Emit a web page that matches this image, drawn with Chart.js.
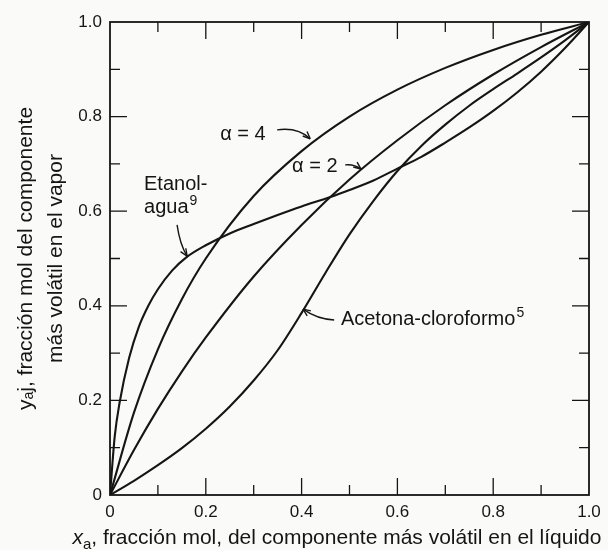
<!DOCTYPE html>
<html>
<head>
<meta charset="utf-8">
<script src="https://cdn.jsdelivr.net/npm/chart.js@4.4.1/dist/chart.umd.min.js"></script>
<style>
  html, body { margin: 0; padding: 0; background: #fafaf8; }
</style>
</head>
<body>
<canvas id="xy" width="608" height="550"></canvas>
<script>
/* --------------- Datos ----------------------------------------- */
const xAlpha = [0, 0.05, 0.1, 0.15, 0.2, 0.3, 0.4, 0.5, 0.6, 0.7, 0.8, 0.9, 1.0];
const yAlpha4 = [0, 0.174, 0.308, 0.414, 0.5, 0.632, 0.727, 0.8, 0.857, 0.903, 0.941, 0.973, 1.0];
const yAlpha2 = [0, 0.095, 0.182, 0.261, 0.333, 0.462, 0.571, 0.667, 0.75, 0.824, 0.889, 0.947, 1.0];

const xEtanol = [0, 0.01, 0.02, 0.04, 0.06, 0.08, 0.1, 0.13, 0.16, 0.2, 0.25, 0.3, 0.35, 0.4, 0.46, 0.5, 0.55, 0.6, 0.65, 0.7, 0.75, 0.8, 0.85, 0.9, 0.95, 1.0];
const yEtanol = [0, 0.125, 0.195, 0.29, 0.355, 0.4, 0.435, 0.475, 0.503, 0.528, 0.553, 0.573, 0.592, 0.61, 0.63, 0.645, 0.665, 0.69, 0.715, 0.745, 0.777, 0.812, 0.851, 0.895, 0.945, 1.0];

const xAcetona = [0, 0.05, 0.1, 0.15, 0.2, 0.25, 0.3, 0.35, 0.4, 0.45, 0.5, 0.55, 0.6, 0.65, 0.7, 0.75, 0.8, 0.85, 0.9, 0.95, 1.0];
const yAcetona = [0, 0.03, 0.063, 0.099, 0.14, 0.187, 0.242, 0.306, 0.385, 0.47, 0.551, 0.622, 0.685, 0.738, 0.783, 0.823, 0.858, 0.891, 0.925, 0.961, 1.0];

const majorTicks = [0.2, 0.4, 0.6, 0.8];
const minorTicks = [0.1, 0.3, 0.5, 0.7, 0.9];

/* --------------- Rótulos sobre las curvas (en unidades de los ejes) --------------------- */
const notes = [
  { lines: [["Etanol-", ""], ["agua", "9"]], x: 0.071, y: 0.645, arrow: [[0.140, 0.571], [0.146, 0.529], [0.161, 0.505]] },
  { lines: [["α = 4", ""]], x: 0.230, y: 0.750, arrow: [[0.349, 0.772], [0.392, 0.778], [0.418, 0.753]] },
  { lines: [["α = 2", ""]], x: 0.380, y: 0.683, arrow: [[0.491, 0.698], [0.510, 0.700], [0.524, 0.689]] },
  { lines: [["Acetona-cloroformo", "5"]], x: 0.482, y: 0.359, arrow: [[0.468, 0.370], [0.432, 0.372], [0.403, 0.393]] },
];

const pts = (xs, ys) => xs.map((v, i) => ({ x: v, y: ys[i] }));
const ink = "#151515";
const family = "'Liberation Sans', Arial, Helvetica, sans-serif";

const curve = (label, data) => ({
  label,
  data,
  showLine: true,
  borderColor: ink,
  borderWidth: 2.1,
  pointRadius: 0,
  cubicInterpolationMode: "monotone",
});

/* --------------- Marco, marcas interiores y rótulos --------------------- */
const frame = {
  id: "frame",
  afterDatasetsDraw(chart) {
    const { ctx, chartArea: a, scales: { x, y } } = chart;
    ctx.save();
    ctx.strokeStyle = ink;
    ctx.lineWidth = 1.8;
    ctx.strokeRect(a.left, a.top, a.right - a.left, a.bottom - a.top);

    ctx.lineWidth = 1.3;
    ctx.beginPath();
    const tick = (v, len) => {
      const px = x.getPixelForValue(v), py = y.getPixelForValue(v);
      ctx.moveTo(px, a.bottom); ctx.lineTo(px, a.bottom - len);
      ctx.moveTo(px, a.top); ctx.lineTo(px, a.top + len);
      ctx.moveTo(a.left, py); ctx.lineTo(a.left + len, py);
      ctx.moveTo(a.right, py); ctx.lineTo(a.right - len, py);
    };
    majorTicks.forEach(v => tick(v, 17));
    minorTicks.forEach(v => tick(v, 10));
    ctx.stroke();

    ctx.fillStyle = ink;
    ctx.textBaseline = "alphabetic";
    ctx.textAlign = "left";
    for (const n of notes) {
      let px = x.getPixelForValue(n.x), py = y.getPixelForValue(n.y);
      n.lines.forEach(([txt, sup], i) => {
        ctx.font = "20px " + family;
        ctx.fillText(txt, px, py + i * 23);
        if (sup) {
          const w = ctx.measureText(txt).width;
          ctx.font = "14px " + family;
          ctx.fillText(sup, px + w + 1, py + i * 23 - 8);
        }
      });
      const p = n.arrow.map(([u, v]) => [x.getPixelForValue(u), y.getPixelForValue(v)]);
      ctx.lineWidth = 1.4;
      ctx.beginPath();
      ctx.moveTo(p[0][0], p[0][1]);
      ctx.quadraticCurveTo(p[1][0], p[1][1], p[2][0], p[2][1]);
      ctx.stroke();
      const ang = Math.atan2(p[2][1] - p[1][1], p[2][0] - p[1][0]);
      ctx.beginPath();
      ctx.moveTo(p[2][0], p[2][1]);
      ctx.lineTo(p[2][0] - 8 * Math.cos(ang - 0.4), p[2][1] - 8 * Math.sin(ang - 0.4));
      ctx.moveTo(p[2][0], p[2][1]);
      ctx.lineTo(p[2][0] - 8 * Math.cos(ang + 0.4), p[2][1] - 8 * Math.sin(ang + 0.4));
      ctx.stroke();
    }

    // título del eje x: x cursiva con subíndice
    const parts = [
      ["italic 21px " + family, "x", 0],
      ["15px " + family, "a", 5],
      ["21px " + family, ", fracción mol, del componente más volátil en el líquido", 0],
    ];
    let total = 0;
    parts.forEach(([f, t]) => { ctx.font = f; total += ctx.measureText(t).width; });
    let tx = 337 - total / 2;
    const ty = 544;
    parts.forEach(([f, t, dy]) => {
      ctx.font = f;
      ctx.fillText(t, tx, ty + dy);
      tx += ctx.measureText(t).width;
    });
    ctx.restore();
  },
};

const fmt = v => (v === 0 ? "0" : v.toFixed(1));

new Chart(document.getElementById("xy"), {
  type: "scatter",
  plugins: [frame],
  data: {
    datasets: [
      curve("Etanol-agua", pts(xEtanol, yEtanol)),
      curve("α = 4", pts(xAlpha, yAlpha4)),
      curve("α = 2", pts(xAlpha, yAlpha2)),
      curve("Acetona-cloroformo", pts(xAcetona, yAcetona)),
    ],
  },
  options: {
    responsive: false,
    animation: false,
    devicePixelRatio: 1,
    layout: { padding: { top: 22, right: 19, left: 0, bottom: 0 } },
    plugins: { legend: { display: false }, tooltip: { enabled: false } },
    scales: {
      x: {
        type: "linear",
        min: 0,
        max: 1,
        grid: { display: false, drawTicks: false },
        border: { display: false },
        ticks: { stepSize: 0.2, padding: 7, color: ink, font: { size: 17, family }, callback: fmt, maxRotation: 0 },
        title: { display: false },
        afterFit: s => { s.height = 55; },
      },
      y: {
        type: "linear",
        min: 0,
        max: 1,
        grid: { display: false, drawTicks: false },
        border: { display: false },
        ticks: { stepSize: 0.2, padding: 8, color: ink, font: { size: 17, family }, callback: fmt },
        title: {
          display: true,
          text: ["yₐj, fracción mol del componente", "más volátil en el vapor"],
          color: ink,
          font: { size: 21, family, lineHeight: 1.43 },
          padding: { top: 11, bottom: 0 },
        },
        afterFit: s => { s.width = 110; },
      },
    },
  },
});
</script>
</body>
</html>
